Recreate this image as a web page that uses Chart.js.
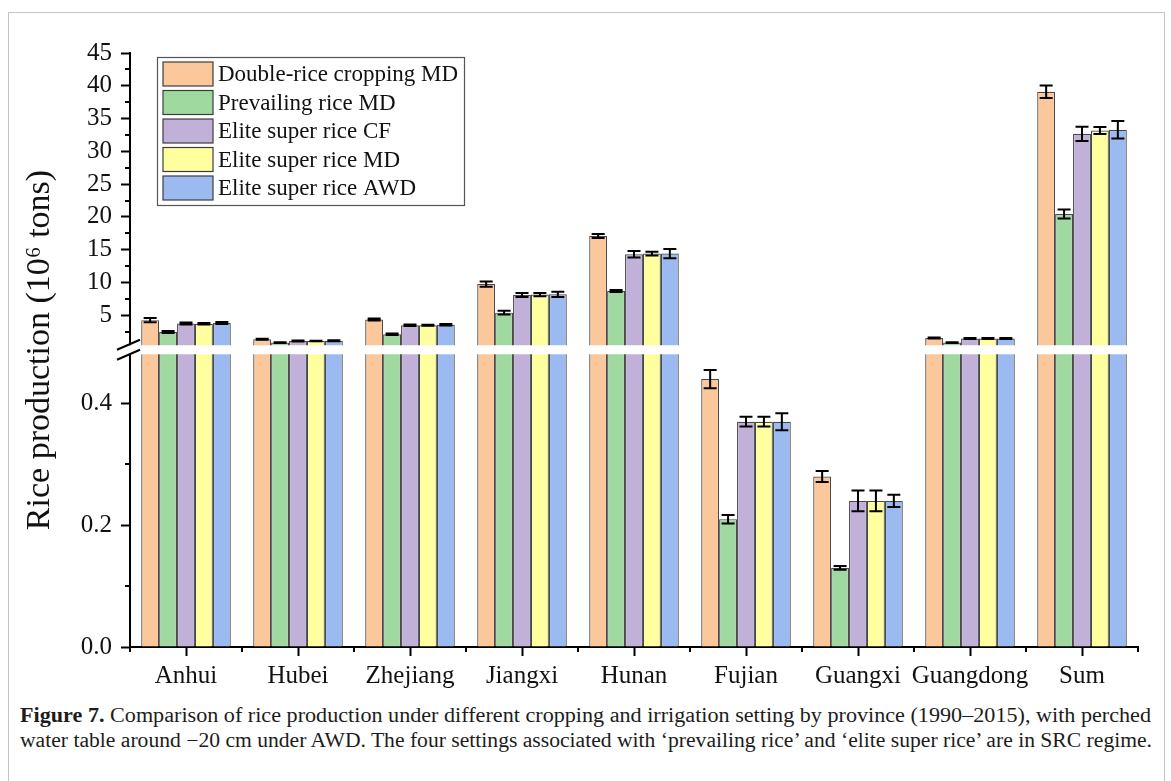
<!DOCTYPE html>
<html>
<head>
<meta charset="utf-8">
<script src="https://cdn.jsdelivr.net/npm/chart.js@4.4.1/dist/chart.umd.min.js"></script>
<style>
  html, body { margin: 0; padding: 0; background: #fff; }
  #frame { position: absolute; left: 8px; top: 12px; width: 1157px; height: 800px;
           border: 1px solid #c4c4c4; border-bottom: none; box-sizing: border-box; }
  #wrap { position: absolute; left: 0; top: 0; width: 1171px; height: 700px; }
  #caption { position: absolute; left: 20px; top: 703px; font-family: 'Liberation Serif', 'Times New Roman', serif;
             font-size: 20px; line-height: 25px; color: #1c1c1c; }
  #caption .line { white-space: nowrap; transform-origin: 0 0; width: max-content; }
</style>
</head>
<body>
<div id="frame"></div>
<div id="wrap"><canvas id="chart" width="1171" height="700"></canvas></div>
<div id="caption">
  <div class="line"><b>Figure 7.</b> Comparison of rice production under different cropping and irrigation setting by province (1990–2015), with perched</div>
  <div class="line">water table around −20 cm under AWD. The four settings associated with ‘prevailing rice’ and ‘elite super rice’ are in SRC regime.</div>
</div>
<script>
// ---- data (10^6 tons), mean and error half-widths ----
const provinces = ['Anhui', 'Hubei', 'Zhejiang', 'Jiangxi', 'Hunan', 'Fujian', 'Guangxi', 'Guangdong', 'Sum'];

const seriesNames = ['Double-rice cropping MD', 'Prevailing rice MD', 'Elite super rice CF', 'Elite super rice MD', 'Elite super rice AWD'];

const doubleRiceMD    = [4.25, 1.33, 4.34, 9.75, 17.1, 0.44, 0.28, 1.53, 39.1];
const doubleRiceMDErr = [0.33, 0.08, 0.15, 0.40, 0.30, 0.015, 0.009, 0.08, 0.96];

const prevailingMD    = [2.45, 0.83, 2.10, 5.40, 8.70, 0.21, 0.13, 0.83, 20.44];
const prevailingMDErr = [0.15, 0.05, 0.10, 0.30, 0.15, 0.007, 0.003, 0.05, 0.70];

const eliteCF    = [3.73, 1.07, 3.47, 8.10, 14.3, 0.37, 0.24, 1.44, 32.67];
const eliteCFErr = [0.15, 0.08, 0.10, 0.30, 0.50, 0.008, 0.017, 0.08, 1.10];

const eliteMD    = [3.70, 1.07, 3.47, 8.15, 14.4, 0.37, 0.24, 1.44, 33.18];
const eliteMDErr = [0.10, 0.05, 0.08, 0.25, 0.30, 0.008, 0.017, 0.08, 0.55];

const eliteAWD    = [3.82, 1.10, 3.55, 8.20, 14.4, 0.37, 0.24, 1.44, 33.29];
const eliteAWDErr = [0.15, 0.08, 0.10, 0.40, 0.70, 0.014, 0.010, 0.08, 1.35];

// y-axis: lower segment 0–0.48, upper segment 0.5–45
const yMajorTicks = [0, 0.2, 0.4, 5, 10, 15, 20, 25, 30, 35, 40, 45];
const yMinorTicks = [0.1, 0.3, 2.5, 7.5, 12.5, 17.5, 22.5, 27.5, 32.5, 37.5, 42.5];
const breakFrom = 0.48;
const breakTo = 0.5;

const fillColors = ['#FCC79B', '#A0D9A0', '#C1B1D8', '#FFFFA0', '#9BBBF0'];
const SERIF = "'Liberation Serif', 'Times New Roman', serif";

// ---- linear scale with an axis break ----
class BrokenLinearScale extends Chart.LinearScale {
  static id = 'brokenLinear';
  buildTicks() {
    this.start = this.min;
    this.end = this.max;
    return this.options.majorTicks.map(v => ({ value: v }));
  }
  _layoutParts() {
    const br = this.options.axisBreak;
    const lowTop = this.bottom - (this.bottom - this.top) * br.lowShare;
    const highBottom = lowTop - br.gap;
    return { br, lowTop, highBottom };
  }
  getPixelForValue(value) {
    const { br, lowTop, highBottom } = this._layoutParts();
    if (value <= br.from) {
      return this.bottom - (value - this.min) / (br.from - this.min) * (this.bottom - lowTop);
    }
    if (value < br.to) {
      return lowTop - (value - br.from) / (br.to - br.from) * (lowTop - highBottom);
    }
    return highBottom - (value - br.to) / (this.max - br.to) * (highBottom - this.top);
  }
  getValueForPixel(pixel) {
    const { br, lowTop, highBottom } = this._layoutParts();
    if (pixel >= lowTop) {
      return this.min + (this.bottom - pixel) / (this.bottom - lowTop) * (br.from - this.min);
    }
    if (pixel > highBottom) {
      return br.from + (lowTop - pixel) / (lowTop - highBottom) * (br.to - br.from);
    }
    return br.to + (highBottom - pixel) / (highBottom - this.top) * (this.max - br.to);
  }
}
Chart.register(BrokenLinearScale);

const errorSets = [doubleRiceMDErr, prevailingMDErr, eliteCFErr, eliteMDErr, eliteAWDErr];
const valueSets = [doubleRiceMD, prevailingMD, eliteCF, eliteMD, eliteAWD];

const datasets = valueSets.map((vals, i) => ({
  label: seriesNames[i],
  data: vals,
  errors: errorSets[i],
  backgroundColor: fillColors[i],
  borderColor: '#4a4a4a',
  borderWidth: 1.2,
  borderSkipped: 'bottom',
  categoryPercentage: 0.8,
  barPercentage: 1.0
}));

// error bars, the white break band across the plot and the break marks
const decorPlugin = {
  id: 'decor',
  afterDatasetsDraw(chart) {
    const ctx = chart.ctx;
    const y = chart.scales.y;
    const area = chart.chartArea;

    // break band
    const gapTop = y.getPixelForValue(breakTo);
    const gapBottom = y.getPixelForValue(breakFrom);
    ctx.save();
    ctx.fillStyle = '#fff';
    ctx.fillRect(area.left - 1.5, gapTop + 0.5, area.right - area.left + 4, gapBottom - gapTop - 1);
    ctx.restore();

    // error bars
    ctx.save();
    ctx.strokeStyle = '#000';
    ctx.lineWidth = 2;
    chart.data.datasets.forEach((ds, di) => {
      const meta = chart.getDatasetMeta(di);
      meta.data.forEach((bar, k) => {
        const v = ds.data[k], e = ds.errors[k];
        const yHi = y.getPixelForValue(v + e);
        const yLo = y.getPixelForValue(v - e);
        const cx = bar.x, half = 6.5;
        ctx.beginPath();
        ctx.moveTo(cx, yHi); ctx.lineTo(cx, yLo);
        ctx.moveTo(cx - half, yHi); ctx.lineTo(cx + half, yHi);
        ctx.moveTo(cx - half, yLo); ctx.lineTo(cx + half, yLo);
        ctx.stroke();
      });
    });
    ctx.restore();

    // slanted break marks on the y axis
    ctx.save();
    ctx.strokeStyle = '#000';
    ctx.lineWidth = 2;
    [gapTop, gapBottom].forEach(py => {
      ctx.beginPath();
      ctx.moveTo(area.left - 13, py + 5);
      ctx.lineTo(area.left + 10, py - 5);
      ctx.stroke();
    });
    ctx.restore();
  },
  afterDraw(chart) {
    const ctx = chart.ctx;
    const y = chart.scales.y;
    const x = chart.scales.x;
    const area = chart.chartArea;

    // minor ticks
    ctx.save();
    ctx.strokeStyle = '#000';
    ctx.lineWidth = 2;
    ctx.beginPath();
    yMinorTicks.forEach(v => {
      const py = Math.round(y.getPixelForValue(v));
      ctx.moveTo(area.left, py); ctx.lineTo(area.left - 5, py);
    });
    const n = provinces.length;
    const step = (area.right - area.left) / n;
    for (let i = 0; i <= n; i++) {
      const px = x.getPixelForValue(0) - step / 2 + i * step;
      ctx.moveTo(px, area.bottom); ctx.lineTo(px, area.bottom + 5);
    }
    ctx.stroke();
    ctx.restore();

    // legend box
    const lx = 157.5, ly = 57.5, lw = 307, lh = 148;
    ctx.save();
    ctx.fillStyle = '#fff';
    ctx.fillRect(lx, ly, lw, lh);
    ctx.strokeStyle = '#555';
    ctx.lineWidth = 1.2;
    ctx.strokeRect(lx, ly, lw, lh);
    ctx.font = '23px ' + SERIF;
    ctx.textBaseline = 'middle';
    ctx.textAlign = 'left';
    chart.data.datasets.forEach((ds, i) => {
      const sy = 62 + i * 28.5;
      ctx.fillStyle = ds.backgroundColor;
      ctx.fillRect(163, sy, 50, 24);
      ctx.strokeStyle = '#3c3c3c';
      ctx.lineWidth = 1.2;
      ctx.strokeRect(163, sy, 50, 24);
      ctx.fillStyle = '#111';
      ctx.fillText(ds.label, 218, sy + 13);
    });
    ctx.restore();
  }
};

new Chart(document.getElementById('chart'), {
  type: 'bar',
  data: { labels: provinces, datasets },
  options: {
    responsive: false,
    animation: false,
    devicePixelRatio: 1,
    layout: { padding: { top: 53, right: 33, bottom: 0, left: 0 } },
    plugins: { legend: { display: false }, tooltip: { enabled: false } },
    scales: {
      x: {
        type: 'category',
        offset: true,
        grid: { display: true, drawOnChartArea: false, offset: false, tickLength: 9, tickColor: '#000', tickWidth: 2 },
        border: { display: true, color: '#000', width: 2 },
        ticks: { color: '#111', font: { family: SERIF, size: 25 }, padding: 5, maxRotation: 0, autoSkip: false },
        afterFit: s => { s.height = 53; }
      },
      y: {
        type: 'brokenLinear',
        min: 0,
        max: 45,
        majorTicks: yMajorTicks,
        axisBreak: { from: breakFrom, to: breakTo, lowShare: 0.492, gap: 10 },
        grid: { display: true, drawOnChartArea: false, tickLength: 9, tickColor: '#000', tickWidth: 2 },
        border: { display: true, color: '#000', width: 2 },
        ticks: {
          color: '#111',
          font: { family: SERIF, size: 25 },
          padding: 9,
          autoSkip: false,
          callback: v => (v < 1 ? v.toFixed(1) : String(v))
        },
        title: {
          display: true,
          text: 'Rice production (10⁶ tons)',
          color: '#111',
          font: { family: SERIF, size: 34 },
          padding: { top: 20, bottom: 0 }
        },
        afterFit: s => { s.width = 130; }
      }
    }
  },
  plugins: [decorPlugin]
});

// stretch each caption line to the text block width
document.fonts.ready.then(() => {
  const targets = [1131, 1132];
  document.querySelectorAll('#caption .line').forEach((el, i) => {
    const w = el.getBoundingClientRect().width;
    el.style.transform = 'scaleX(' + (targets[i] / w) + ')';
  });
});
</script>
</body>
</html>
